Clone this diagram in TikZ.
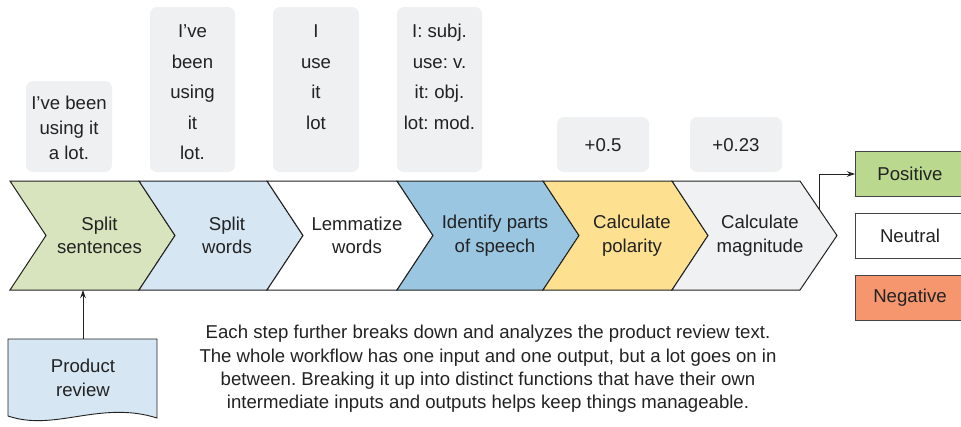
\documentclass[tikz,border=0pt]{standalone}
\usepackage{fontspec}
\setmainfont{Liberation Sans}
\frenchspacing
\usetikzlibrary{arrows.meta}
\definecolor{ink}{HTML}{222222}
\definecolor{cgreen}{HTML}{D7E4BD}
\definecolor{cblue}{HTML}{D6E6F3}
\definecolor{cdblue}{HTML}{9BC6E1}
\definecolor{cyellow}{HTML}{FDE090}
\definecolor{cgray}{HTML}{F0F1F3}
\definecolor{boxgray}{HTML}{EFF0F2}
\definecolor{pgreen}{HTML}{BAD98E}
\definecolor{porange}{HTML}{F5966E}
\begin{document}
\begin{tikzpicture}[x=1pt,y=-1pt,
  chev/.style={draw=ink,line width=1pt,line join=miter},
  lbl/.style={text=ink,font=\fontsize{18.6}{23.5}\selectfont\frenchspacing,align=center,inner sep=0pt},
  toptxt/.style={text=ink,font=\fontsize{18.6}{30.5}\selectfont\frenchspacing,align=center,inner sep=0pt},
  graybox/.style={fill=boxgray,rounded corners=7pt},
  outbox/.style={draw=ink!85,line width=1pt,anchor=north west,minimum width=110pt,minimum height=45pt,inner sep=0pt},
  arr/.style={draw=ink,line width=0.9pt,-{Stealth[length=8pt,width=5.5pt]}}
]
\useasboundingbox (0,0) rectangle (961,426);

% top gray boxes
\fill[graybox] (26,81) rectangle (112,172);
\fill[graybox] (150,7) rectangle (235,172);
\fill[graybox] (273,7) rectangle (359,172);
\fill[graybox] (397,7) rectangle (482,172);
\fill[graybox] (557,117) rectangle (649,172);
\fill[graybox] (690,117) rectangle (782,172);

\node[lbl,font=\fontsize{18.6}{25}\selectfont] (t1) at (69,128) {I’ve been\\using it\\a lot.};
\node[toptxt] (t2) at (192.5,92.5) {I’ve\\been\\using\\it\\lot.};
\node[toptxt] (t3) at (316,77) {I\\use\\it\\lot};
\node[toptxt] (t4) at (439.5,77) {I: subj.\\use: v.\\it: obj.\\lot: mod.};
\node[lbl] (t5) at (603,145) {+0.5};
\node[lbl] (t6) at (736,145) {+0.23};

% chevrons
\filldraw[chev,fill=cgreen] (10,181) -- (139,181) -- (175,235.5) -- (139,290) -- (10,290) -- (46,235.5) -- cycle;
\filldraw[chev,fill=cblue] (139,181) -- (267,181) -- (303,235.5) -- (267,290) -- (139,290) -- (175,235.5) -- cycle;
\filldraw[chev,fill=white] (267,181) -- (397,181) -- (433,235.5) -- (397,290) -- (267,290) -- (303,235.5) -- cycle;
\filldraw[chev,fill=cdblue] (397,181) -- (543,181) -- (579,235.5) -- (543,290) -- (397,290) -- (433,235.5) -- cycle;
\filldraw[chev,fill=cyellow] (543,181) -- (672,181) -- (708,235.5) -- (672,290) -- (543,290) -- (579,235.5) -- cycle;
\filldraw[chev,fill=cgray] (672,181) -- (800,181) -- (837,235.5) -- (800,290) -- (672,290) -- (708,235.5) -- cycle;

\node[lbl] (s1) at (99.5,235.5) {Split\\sentences};
\node[lbl] (s2) at (227,235.5) {Split\\words};
\node[lbl] (s3) at (357,235.5) {Lemmatize\\words};
\node[lbl] (s4) at (495,235.5) {Identify parts\\of speech};
\node[lbl] (s5) at (632,235.5) {Calculate\\polarity};
\node[lbl] (s6) at (760,235.5) {Calculate\\magnitude};

\coordinate (in1) at (83,290);
\coordinate (out6) at (819,209);

% outputs
\node[outbox,fill=pgreen] (pos) at (855,151) {};
\node[outbox,fill=white] (neu) at (855,213) {};
\node[outbox,fill=porange] (neg) at (855,275) {};
\node[lbl] (post) at (910,173.5) {Positive};
\node[lbl] (neut) at (910,235.5) {Neutral};
\node[lbl] (negt) at (910,297.5) {Negative};

\draw[arr] (out6) |- (pos.west);

% product review document
\filldraw[draw=ink,line width=0.9pt,fill=cblue] (8,339) coordinate (docnw) -- (157,339) -- (157,418)
  .. controls (100,400) and (55,432) .. (8,416) -- cycle;
\coordinate (doctop) at (83,339);
\node[lbl] (doc) at (83,378) {Product\\review};
\draw[arr] (doctop) -- (in1);

% caption
\node[lbl,font=\fontsize{18.6}{23.3}\selectfont\frenchspacing] (cap) at (488,369) {Each step further breaks down and analyzes the product review text.\\The whole workflow has one input and one output, but a lot goes on in\\between. Breaking it up into distinct functions that have their own\\intermediate inputs and outputs helps keep things manageable.};
\end{tikzpicture}
\end{document}
